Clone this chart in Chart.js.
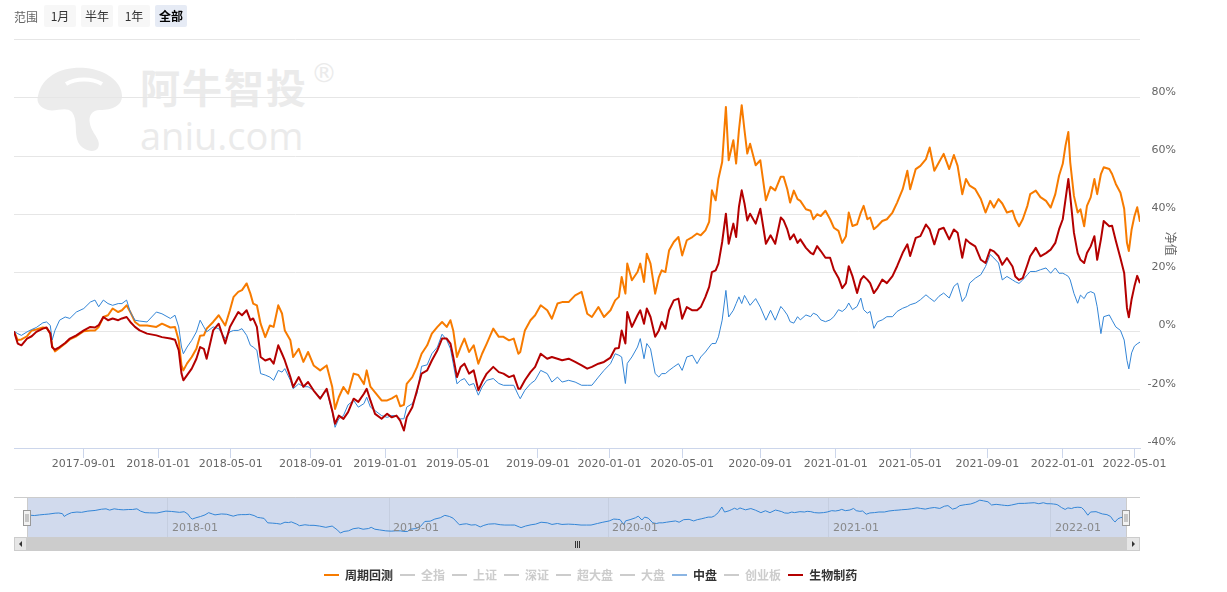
<!DOCTYPE html>
<html lang="zh-CN">
<head>
<meta charset="utf-8">
<title>周期回测</title>
<script src="https://cdn.jsdelivr.net/npm/chart.js@4.4.1/dist/chart.umd.min.js"></script>
<style>
  html, body { margin: 0; padding: 0; background: #fff; }
  body { width: 1227px; height: 592px; position: relative; overflow: hidden; font-family: "DejaVu Sans", "Noto Sans CJK SC", sans-serif; }
  canvas { position: absolute; left: 0; z-index: 1; }
  #main { top: 0; }
  #nav { top: 480px; }

  /* range selector */
  #range { position: absolute; left: 14px; top: 5px; height: 22px; display: flex; align-items: center; font-size: 12px; font-family: "Noto Sans CJK SC", sans-serif; z-index: 2; }
  #range .lbl { color: #666; margin-right: 6px; }
  #range .btn { width: 32px; height: 22px; line-height: 22px; text-align: center; background: #f7f7f7; color: #333; border-radius: 2px; margin-right: 5px; }
  #range .btn.on { background: #e6ebf5; color: #000; font-weight: bold; }

  /* watermark */
  .wm { position: absolute; color: #ebebeb; z-index: 0; white-space: nowrap; }
  #wm1 { left: 140px; top: 66px; font: bold 40px/1 "Noto Sans CJK SC", sans-serif; letter-spacing: 2px; }
  #wm2 { left: 140px; top: 116px; font: 38px/1 "Open Sans", sans-serif; }
  #wm3 { left: 311px; top: 60px; font: 26px/1 "DejaVu Sans", sans-serif; }
  #wmIcon { position: absolute; left: 36px; top: 62px; z-index: 0; }

  /* legend */
  #legend { position: absolute; left: 324px; top: 568px; height: 14px; display: flex; align-items: center; font: bold 12px/14px "Noto Sans CJK SC", sans-serif; z-index: 2; }
  #legend .item { display: flex; align-items: center; margin-right: 7px; }
  #legend .sym { width: 15px; height: 2px; margin-right: 6px; }
</style>
</head>
<body>

<div id="range">
  <span class="lbl">范围</span>
  <span class="btn">1月</span>
  <span class="btn">半年</span>
  <span class="btn">1年</span>
  <span class="btn on">全部</span>
</div>

<svg id="wmIcon" width="90" height="92" viewBox="0 0 90 92">
  <path d="M2 34 C6 14 26 4 50 6 C70 8 86 20 86 34 C86 44 76 48 64 48 C56 48 52 54 54 62 C56 72 66 78 62 86 C58 92 46 88 42 80 C38 70 42 58 36 50 C30 44 20 50 12 48 C4 46 0 40 2 34 Z" fill="#ececec"/>
  <path d="M30 22 C40 16 56 16 66 22" stroke="#fff" stroke-width="4" fill="none"/>
</svg>
<div class="wm" id="wm1">阿牛智投</div>
<div class="wm" id="wm2">aniu.com</div>
<div class="wm" id="wm3">®</div>

<canvas id="main" width="1227" height="480"></canvas>
<canvas id="nav" width="1227" height="112"></canvas>

<div id="legend"></div>

<script>
// ===========================
// Data (x = trading day since start of backtest, y = %)
// ===========================
const days = [
  0,4,8,14,19,24,31,35,39,41,
  44,49,55,60,67,75,82,87,91,96,
  101,106,112,116,121,125,130,135,143,153,
  159,168,173,177,180,182,186,191,196,200,
  204,207,214,220,227,232,236,241,245,250,
  254,257,261,265,270,275,279,284,288,291,
  297,300,306,311,316,322,329,336,342,345,
  349,354,359,365,370,376,379,383,388,395,
  401,406,411,415,419,422,428,433,438,444,
  449,455,460,465,469,472,476,480,484,489,
  494,499,503,508,515,521,526,532,537,542,
  544,549,555,560,566,573,578,584,589,596,
  603,610,616,621,628,634,641,646,650,653,
  657,659,664,670,673,677,680,684,689,693,
  696,700,704,709,714,718,723,729,734,738,
  743,747,750,754,757,761,765,768,773,776,
  779,782,785,788,791,797,802,808,813,818,
  824,827,831,834,838,842,845,851,856,859,
  863,867,872,877,881,886,890,894,897,901,
  906,910,913,917,920,924,928,933,938,944,
  949,955,960,963,969,974,980,984,989,994,
  999,1005,1010,1014,1019,1023,1027,1033,1039,1044,
  1049,1053,1058,1062,1067,1073,1076,1080,1084,1089,
  1092,1098,1103,1109,1114,1119,1123,1127,1130,1133,
  1135,1139,1143,1146,1150,1153,1157,1161,1164,1168,
  1171,1177,1180,1184,1189,1193,1196,1198,1201,1204,
  1207,1210
];

// 周期回测
const cycleBacktest = [
  0,-3,-2.8,-1.7,0.3,0.6,1.3,1.1,-0.6,-5,
  -6.9,-5.7,-4.2,-2.8,-1.7,0,0.3,0.3,1.5,4.9,
  5.5,7.8,6.6,7.2,8.9,6.6,3.2,2,2,1.5,
  2.6,1.3,1.5,-3.1,-11.7,-13.4,-11,-8.8,-6,-1.5,
  -1.4,0.9,3.2,5.5,2,7.2,11.8,13.5,14.1,16.4,
  12.9,9.5,8.9,2.6,-2,2,1.5,8.9,6.1,0.3,
  -3.1,-8.8,-6,-10.5,-7.1,-11.7,-13.4,-11.7,-19.1,-26.6,
  -22.6,-19.1,-21.4,-14.5,-15,-18.1,-13.4,-19,-20.9,-23.7,
  -23.7,-23,-22,-25.7,-25.2,-18,-15.7,-12.3,-7.7,-4.8,
  -0.8,1.5,3.2,1.5,3.8,0.3,-8.8,-5.4,-2.5,-7.1,
  -4.8,-11.1,-7.7,-4.2,0.9,-1.9,-1.9,-3.1,-2.5,-7.7,
  -7.1,0.3,3.8,5.5,8.9,7.2,4.3,9.5,10,10,
  12.3,13.5,6,4.9,8.3,4.9,7.2,10.6,11.8,18.6,
  12.9,23.2,17.5,20.3,23.2,16.9,26.6,23.2,12.9,18.6,
  20.9,20.3,27.8,30.6,32.3,26,31.2,32.3,33.5,32.9,
  34.6,37.5,48.3,44.9,52.3,58,76.9,58.6,65.5,57.5,
  68.9,77.5,68.9,60.9,64.3,56.9,58.6,44.9,49.5,48.3,
  53,53,48.7,44.1,48.2,45.3,44.7,41.8,41.3,38.4,
  40.1,39.5,41.3,38.4,35.5,34.4,30.3,32.6,40.7,36.1,
  36.7,40.7,43,38.4,39,35,36.1,37.8,38.4,40.7,
  44.1,48.7,55,48.7,55.6,56.7,59,63,55,57.9,
  60.8,55.6,60.4,56.7,47,52.2,49.9,48.7,45.3,40.7,
  44.7,42.4,45.3,43.8,40.7,41.3,38.4,36,38.4,43,
  47,48.2,46,44.7,42.4,47,53.3,57.4,63.7,68.3,
  58,46.4,40.7,41.8,36,43,45.9,52.2,47,53.9,
  56.2,55.6,53.9,50.5,47.5,42,30.3,27.5,34.9,39.4,
  42.5,37.5
];

// 生物制药
const bioPharma = [
  0,-4.2,-4.8,-2.5,-1.7,-0.2,0.9,1.3,-0.8,-5.5,
  -6.3,-5.4,-4,-2.5,-1.4,0.3,1.5,1.3,2.1,4.9,
  3.8,4.4,3.8,4.4,4.9,3.2,1.5,0.3,-0.8,-1.4,
  -2,-2.5,-2.9,-6.5,-14.5,-16.8,-15,-12.8,-9.4,-5.4,
  -6,-9.4,0.3,2.6,-4.2,1.5,3.8,6.6,5.5,7.2,
  3.8,4.4,1.5,-8.8,-10,-9.4,-11.1,-4.8,-7.7,-10,
  -15.7,-19.1,-15.7,-19,-17.4,-20.3,-23.1,-19.7,-27.2,-31.7,
  -28.9,-30,-27.7,-23.1,-24.2,-21.4,-19.7,-23.7,-28.3,-30,
  -28.3,-29.5,-28.9,-30.6,-34,-29.5,-26,-20.3,-14.5,-13.4,
  -10,-6.5,-2.5,-2.5,-4.2,-8.8,-15.7,-12.2,-11.1,-14.5,
  -13.4,-20.2,-17.4,-14.5,-12.2,-14,-14.5,-15.7,-15.1,-19.7,
  -19.7,-16.8,-14,-12.2,-7.7,-9.4,-8.8,-9.4,-9.9,-9.4,
  -10.5,-11.7,-12.8,-12.2,-11.1,-10.5,-9,-5.9,-5.7,0.3,
  -4.2,6.6,1.5,5.5,7.2,2.6,7.8,4.9,-1.9,0.3,
  3.2,0.9,7.2,10.6,11.2,4.3,8.3,7.2,7.2,8.3,
  11.8,15.2,20.3,20.9,23.2,30.6,40.3,30,36.9,32.3,
  42.6,48.3,43.8,38,40.3,36.9,42,30,32.9,30,
  39,38,34.9,31.5,33.2,30.3,31.5,28.6,26.9,26.4,
  29.2,27.5,25.2,25.2,21.1,18.3,14.8,16.5,22.3,18.9,
  13.1,17.7,18.9,17.7,16.5,13.1,14.8,17.7,16.5,18.9,
  22.3,26.9,29.8,25.8,32,32.6,36.6,34.9,29.8,34.9,
  35.5,31.5,34.9,33.8,25.2,31.5,30.3,29.1,24.5,23.4,
  28,27.4,25.7,22.8,25.1,22.2,18.8,17.6,18.2,22.8,
  25.7,28.6,25.7,26.8,28,30.3,34.9,38.4,45.3,52.2,
  46.4,33.8,26.8,24.5,23.4,26.8,29.1,32.6,24.5,31.5,
  37.8,36,36.2,31,25,20,8,4.8,11,15.4,
  19,16.5
];

// 中盘
const midCap = [
  0,-0.8,-1.4,-0.2,0.6,1.3,2.9,3.2,2,-3,
  0.3,3.8,4.9,4.4,6.6,7.8,10,10.7,8.4,10.7,
  9.5,8.9,9.5,9.5,10.7,6.6,3.8,3.5,3.2,6.6,
  6,4.4,5.5,1.5,-5.4,-7.7,-5.4,-3.1,-0.2,3.8,
  1.5,-0.2,1.5,0.9,-2.5,-0.2,0.3,0.3,0.9,-1.4,
  -4.8,-5.4,-6.5,-14.5,-15,-15.7,-16.8,-13.4,-14,-12.8,
  -16.8,-19.7,-18,-19,-19,-20.3,-22.6,-20.3,-27.7,-32.9,
  -30,-28.9,-25.2,-23.7,-26,-24.8,-22.6,-26,-27.2,-28.9,
  -29.5,-28.9,-28.9,-30,-30,-26,-24.8,-21.4,-12,-11.5,
  -7.7,-5.4,-1,-3,-6,-11,-18,-16.8,-16.2,-18.5,
  -17.9,-21.9,-19.1,-16.8,-16.2,-17.9,-18.5,-18.5,-18.5,-21.9,
  -23.1,-20.2,-18,-16.8,-13.4,-14.5,-17.4,-15.7,-17.4,-16.8,
  -17.4,-18.5,-18.5,-18.5,-15.7,-13.4,-11.1,-7.7,-8.2,-8.8,
  -17.9,-11,-8.8,-5.4,-2.5,-9.4,-4.2,-6,-14.5,-15.7,
  -14.5,-14.5,-13.4,-12.2,-11.1,-13.4,-8.8,-8.2,-11.1,-8.8,
  -7.1,-5.4,-4.2,-4.2,-1.9,3.8,14,4.9,7.2,9.5,
  11.8,9.5,12.3,10.6,8.9,11.2,8.3,3.8,7.2,3.8,
  8.5,7.4,5.6,3.3,2.8,5,3.9,5.6,5,6.2,
  5.6,3.9,3.3,3.9,5,7.4,6.8,7.9,9.7,7.4,
  8.5,11.4,7.4,6.2,6.8,1,3.3,3.9,5,5,
  6.8,7.9,8.5,9.1,9.7,10.8,12.5,11.4,10.2,12,
  13.1,11.4,15.4,16.5,10.2,12,16.5,18.2,19.4,22.2,
  26.3,25.1,23.4,17.6,18.8,17.6,17,16.4,17.6,19.4,
  20.5,20.5,21.1,21.7,19.9,21.7,19.9,19.9,19.4,18.8,
  17.6,13,9.6,12.4,11.2,13,13.6,13,8.4,-0.8,
  5,5.6,3.8,1.5,0.3,-3,-10,-12.9,-7.4,-5.1,
  -4.3,-3.7
];

// x axis ticks (trading day index -> label)
const tickDays = [75,155,233,319,399,477,563,640,718,802,883,963,1046,1127,1204];
const tickLabels = ["2017-09-01","2018-01-01","2018-05-01","2018-09-01","2019-01-01","2019-05-01","2019-09-01",
  "2020-01-01","2020-05-01","2020-09-01","2021-01-01","2021-05-01","2021-09-01","2022-01-01","2022-05-01"];
const navDays = [155,399,640,883,1127];
const navLabels = ["2018-01","2019-01","2020-01","2021-01","2022-01"];

// legend
const legendNames = ["周期回测","全指","上证","深证","超大盘","大盘","中盘","创业板","生物制药"];
const legendColors = ["#f77b00","#cccccc","#cccccc","#cccccc","#cccccc","#cccccc","#8bb5e3","#cccccc","#b40000"];
const legendActive = [true,false,false,false,false,false,true,false,true];

const C_ORANGE = "#f77b00", C_RED = "#b40000", C_BLUE = "#3385d6";

function pts(vals){
  return vals.map((v,i)=>({x:days[i], y:v}));
}

Chart.defaults.font.family = '"DejaVu Sans", "Noto Sans CJK SC", sans-serif';

// ===========================
// Main chart
// ===========================
const mainChart = new Chart(document.getElementById("main"), {
  type: "line",
  data: {
    datasets: [
      {label:"生物制药", data:pts(bioPharma), borderColor:C_RED, borderWidth:2, order:0},
      {label:"中盘", data:pts(midCap), borderColor:C_BLUE, borderWidth:1, order:1},
      {label:"周期回测", data:pts(cycleBacktest), borderColor:C_ORANGE, borderWidth:2, order:2}
    ]
  },
  options: {
    responsive:false,
    animation:false,
    elements:{point:{radius:0}, line:{tension:0, borderJoinStyle:"round"}},
    layout:{padding:{left:14, top:39.5, right:51, bottom:0}},
    plugins:{legend:{display:false}, tooltip:{enabled:false}},
    scales:{
      x:{
        type:"linear", min:0, max:1210,
        grid:{drawOnChartArea:false, drawTicks:true, tickLength:10, color:"#ccd6eb", tickColor:"#ccd6eb"},
        border:{color:"#ccd6eb"},
        ticks:{autoSkip:false, maxRotation:0, color:"#666", font:{size:11}, padding:0,
          callback:(v)=>{ const i=tickDays.indexOf(v); return i<0 ? "" : tickLabels[i]; }},
        afterBuildTicks:(s)=>{ s.ticks = tickDays.map(v=>({value:v})); },
        afterFit:(s)=>{ s.height = 32; s.paddingLeft = 0; s.paddingRight = 0; }
      },
      y:{
        position:"right", min:-40, max:100,
        grid:{color:"#e6e6e6", drawTicks:false},
        border:{display:false},
        ticks:{stepSize:20, color:"#666", font:{size:11}, crossAlign:"far", padding:-5, labelOffset:-6,
          callback:(v)=> v===100 ? "" : v+"%"},
        title:{display:true, text:"净值", color:"#666", font:{size:12}, padding:0},
        afterFit:(s)=>{ s.width = 36; s.paddingTop = 0; s.paddingBottom = 0; }
      }
    }
  }
});

// ===========================
// Navigator
// ===========================
const navChrome = {
  id:"navChrome",
  beforeDraw(chart){
    const {ctx, chartArea:a} = chart;
    ctx.save();
    ctx.fillStyle = "rgba(102,133,194,0.3)";
    ctx.fillRect(a.left, a.top, a.right-a.left, a.bottom-a.top);
    ctx.restore();
  },
  afterDatasetsDraw(chart){
    // month labels inside the navigator
    const {ctx, chartArea:a, scales} = chart;
    ctx.save();
    ctx.font = '11px "DejaVu Sans", sans-serif';
    ctx.fillStyle = "#888";
    ctx.textBaseline = "middle";
    navDays.forEach((d,i)=>{
      ctx.fillText(navLabels[i], Math.round(scales.x.getPixelForValue(d)) + 4, a.bottom - 9);
    });
    ctx.restore();
  },
  afterDraw(chart){
    const {ctx, chartArea:a} = chart;
    const L = 14, R = 1140;
    ctx.save();
    // outline
    ctx.strokeStyle = "#cccccc"; ctx.lineWidth = 1;
    ctx.beginPath();
    ctx.moveTo(L, a.top+0.5); ctx.lineTo(R, a.top+0.5);
    ctx.moveTo(Math.round(a.left)+0.5, a.top); ctx.lineTo(Math.round(a.left)+0.5, a.bottom);
    ctx.moveTo(Math.round(a.right)+0.5, a.top); ctx.lineTo(Math.round(a.right)+0.5, a.bottom);
    ctx.stroke();

    // scrollbar
    const sy = a.bottom, sh = 14;
    ctx.fillStyle = "#f2f2f2"; ctx.fillRect(L, sy, R-L, sh);
    ctx.fillStyle = "#cccccc"; ctx.fillRect(a.left, sy, a.right-a.left, sh);
    ctx.fillStyle = "#e6e6e6";
    ctx.fillRect(L, sy, a.left-L, sh);
    ctx.fillRect(a.right, sy, R-a.right, sh);
    ctx.strokeStyle = "#cccccc";
    ctx.strokeRect(L+0.5, sy+0.5, a.left-L-1, sh-1);
    ctx.strokeRect(a.right+0.5, sy+0.5, R-a.right-1, sh-1);
    // arrows
    ctx.fillStyle = "#333";
    const my = sy + sh/2;
    ctx.beginPath(); ctx.moveTo(L+5, my); ctx.lineTo(L+8, my-3); ctx.lineTo(L+8, my+3); ctx.fill();
    ctx.beginPath(); ctx.moveTo(R-5, my); ctx.lineTo(R-8, my-3); ctx.lineTo(R-8, my+3); ctx.fill();
    // grip
    const cx = Math.round((a.left+a.right)/2);
    ctx.strokeStyle = "#333";
    ctx.beginPath();
    for (const dx of [-2,0,2]) { ctx.moveTo(cx+dx+0.5, my-3); ctx.lineTo(cx+dx+0.5, my+4); }
    ctx.stroke();

    // handles
    const hy = Math.round((a.top+a.bottom)/2) - 7;
    for (const hx of [a.left, a.right]) {
      const x0 = Math.round(hx) - 4;
      ctx.fillStyle = "#f2f2f2"; ctx.fillRect(x0+0.5, hy+0.5, 7, 15);
      ctx.strokeStyle = "#999"; ctx.strokeRect(x0+0.5, hy+0.5, 7, 15);
      ctx.beginPath();
      ctx.moveTo(x0+3, hy+4); ctx.lineTo(x0+3, hy+12);
      ctx.moveTo(x0+5, hy+4); ctx.lineTo(x0+5, hy+12);
      ctx.stroke();
    }
    ctx.restore();
  }
};

const navChart = new Chart(document.getElementById("nav"), {
  type:"line",
  data:{datasets:[{label:"中盘", data:pts(midCap), borderColor:C_BLUE, borderWidth:1}]},
  options:{
    responsive:false,
    animation:false,
    elements:{point:{radius:0}, line:{tension:0}},
    layout:{padding:{left:27, right:101, top:17, bottom:55}},
    plugins:{legend:{display:false}, tooltip:{enabled:false}},
    scales:{
      x:{
        type:"linear", min:0, max:1210,
        grid:{color:"#c5cee0", drawTicks:false},
        border:{display:false},
        ticks:{display:false},
        afterBuildTicks:(s)=>{ s.ticks = navDays.map(v=>({value:v})); },
        afterFit:(s)=>{ s.height = 0; s.paddingLeft = 0; s.paddingRight = 0; }
      },
      y:{display:false, min:-40, max:32}
    }
  },
  plugins:[navChrome]
});

// ===========================
// Legend
// ===========================
const legendEl = document.getElementById("legend");
legendNames.forEach((name,i)=>{
  const item = document.createElement("div");
  item.className = "item";
  item.innerHTML = `<span class="sym" style="background:${legendColors[i]}"></span><span style="color:${legendActive[i] ? "#333" : "#ccc"}">${name}</span>`;
  legendEl.appendChild(item);
});
</script>
</body>
</html>
